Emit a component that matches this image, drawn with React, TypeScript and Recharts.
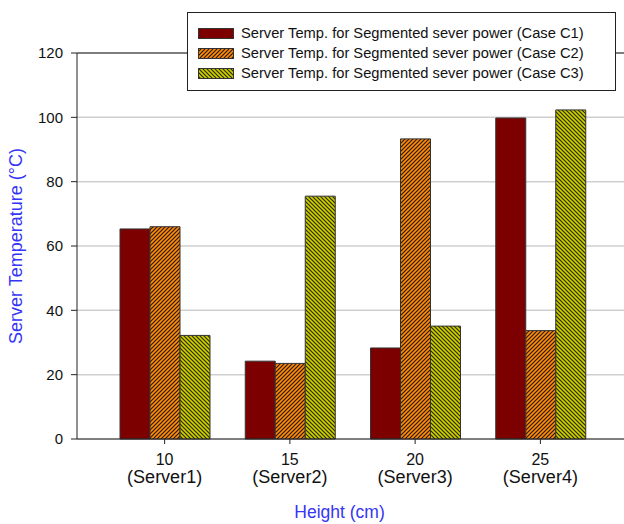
import { BarChart, Bar, XAxis, YAxis, CartesianGrid, ReferenceLine } from "recharts";

const heights = ["10", "15", "20", "25"];
const servers = ["Server1", "Server2", "Server3", "Server4"];
const caseC1 = [65.3, 24.2, 28.3, 99.8];
const caseC2 = [66.0, 23.5, 93.3, 33.7];
const caseC3 = [32.2, 75.5, 35.1, 102.3];
const yTicks = [0, 20, 40, 60, 80, 100, 120];

const seriesNames = [
  "Server Temp. for Segmented sever power (Case C1)",
  "Server Temp. for Segmented sever power (Case C2)",
  "Server Temp. for Segmented sever power (Case C3)",
];

const data = heights.map((h, i) => ({
  height: h,
  server: servers[i],
  c1: caseC1[i],
  c2: caseC2[i],
  c3: caseC3[i],
}));

const FONT = "'Liberation Sans', Arial, sans-serif";
const BLUE = "#3535f5";
const fills = ["#7d0000", "url(#hatchOrange)", "url(#hatchYellow)"];

function XTick(props: any) {
  const { x, y, payload, index } = props;
  return (
    <g>
      <text x={x} y={y + 19} textAnchor="middle" fontSize={16} fill="#111">
        {payload.value}
      </text>
      <text x={x} y={y + 37} textAnchor="middle" fontSize={18} fill="#111">
        ({servers[index]})
      </text>
    </g>
  );
}

function Patterns() {
  return (
    <svg width={0} height={0} style={{ position: "absolute" }}>
      <defs>
        <pattern id="hatchOrange" patternUnits="userSpaceOnUse" width={4} height={4}>
          <rect width={4} height={4} fill="#ff8a10" />
          <path d="M-1,1 l2,-2 M0,4 l4,-4 M3,5 l2,-2" stroke="#2a1a00" strokeWidth={1.2} />
        </pattern>
        <pattern id="hatchYellow" patternUnits="userSpaceOnUse" width={4} height={4}>
          <rect width={4} height={4} fill="#cfd000" />
          <path d="M-1,3 l2,2 M0,0 l4,4 M3,-1 l2,2" stroke="#2a2a00" strokeWidth={1.2} />
        </pattern>
      </defs>
    </svg>
  );
}

function LegendBox() {
  return (
    <div
      style={{
        position: "absolute",
        left: 187,
        top: 12,
        width: 429,
        height: 79,
        border: "1px solid #222",
        background: "#fff",
        boxSizing: "border-box",
        paddingTop: 10,
        paddingLeft: 10,
      }}
    >
      {seriesNames.map((name, i) => (
        <div key={name} style={{ display: "flex", alignItems: "center", height: 20 }}>
          <svg width={36} height={11} style={{ marginRight: 7 }}>
            <rect x={0.5} y={0.5} width={35} height={10} fill={fills[i]} stroke="#333" />
          </svg>
          <span style={{ fontSize: 14.7, color: "#111", whiteSpace: "nowrap" }}>{name}</span>
        </div>
      ))}
    </div>
  );
}

export default function App() {
  return (
    <div
      style={{
        position: "absolute",
        left: 0,
        top: 0,
        width: 624,
        height: 524,
        overflow: "hidden",
        background: "#fff",
        fontFamily: FONT,
      }}
    >
      <Patterns />
      <BarChart
        width={640}
        height={524}
        data={data}
        margin={{ top: 53, right: 12, left: 27, bottom: 55 }}
        barGap={0}
        barCategoryGap={18}
        style={{ fontFamily: FONT }}
      >
        <CartesianGrid vertical={false} stroke="#cfcfcf" strokeWidth={1.5} />
        <XAxis
          dataKey="height"
          height={30}
          padding={{ left: 25, right: 25 }}
          stroke="#222"
          tickSize={5}
          tick={<XTick />}
          interval={0}
          label={({ viewBox }: any) => (
            <text
              x={viewBox.x + viewBox.width / 2 - 13}
              y={513}
              textAnchor="middle"
              dominantBaseline="middle"
              fontSize={17.5}
              fill={BLUE}
            >
              Height (cm)
            </text>
          )}
        />
        <YAxis
          domain={[0, 120]}
          ticks={yTicks}
          width={50}
          stroke="#222"
          tickSize={6}
          tickMargin={8}
          tick={{ fontSize: 15, fill: "#111" }}
          label={({ viewBox }: any) => {
            const cy = viewBox.y + viewBox.height / 2;
            return (
              <text
                x={17}
                y={cy}
                transform={`rotate(-90 17 ${cy})`}
                textAnchor="middle"
                dominantBaseline="middle"
                fontSize={18}
                fill={BLUE}
              >
                Server Temperature (°C)
              </text>
            );
          }}
        />
        <ReferenceLine y={120} stroke="#222" strokeWidth={1.2} />
        <Bar dataKey="c1" name={seriesNames[0]} fill={fills[0]} stroke="#333" strokeWidth={1} isAnimationActive={false} />
        <Bar dataKey="c2" name={seriesNames[1]} fill={fills[1]} stroke="#333" strokeWidth={1} isAnimationActive={false} />
        <Bar dataKey="c3" name={seriesNames[2]} fill={fills[2]} stroke="#333" strokeWidth={1} isAnimationActive={false} />
      </BarChart>
      <LegendBox />
    </div>
  );
}
